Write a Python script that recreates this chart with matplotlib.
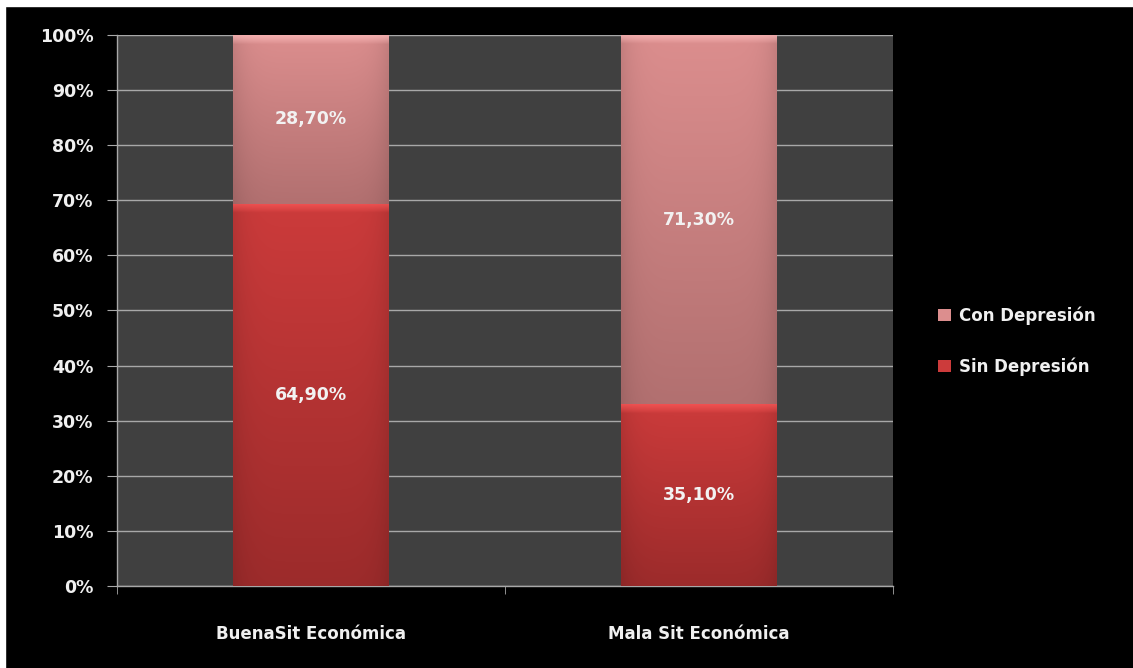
import numpy as np
import matplotlib
matplotlib.use('Agg')
import matplotlib.pyplot as plt
from matplotlib.patches import Patch, Rectangle
from matplotlib.ticker import FuncFormatter

categorias = ['BuenaSit Económica', 'Mala Sit Económica']
sin_depresion = [64.90, 35.10]
con_depresion = [28.70, 71.30]
series = ['Sin Depresión', 'Con Depresión']

# colores: (arriba, abajo) de cada serie
col_sin = ('#cc3b3b', '#9c2b2b')
col_con = ('#dc8e8e', '#b27070')

plt.rcParams['font.family'] = ['DejaVu Sans']
plt.rcParams['font.weight'] = 'bold'

fig = plt.figure(figsize=(11.33, 6.68), dpi=100, facecolor='black', edgecolor='black')
ax = fig.add_axes([0.1033, 0.1228, 0.6849, 0.8248])
ax.set_facecolor('#404040')

# borde blanco arriba y a la izquierda
fig.patches.append(Rectangle((0, 0.991), 1, 0.009, transform=fig.transFigure,
                             color='white', zorder=0))
fig.patches.append(Rectangle((0, 0), 0.004, 1, transform=fig.transFigure,
                             color='white', zorder=0))

total = np.array(sin_depresion) + np.array(con_depresion)
p_sin = np.array(sin_depresion) / total * 100
p_con = np.array(con_depresion) / total * 100
x = np.arange(len(categorias))
ancho = 0.4

def hex2rgb(h):
    return np.array([int(h[i:i + 2], 16) for i in (1, 3, 5)]) / 255.0

def degradado(p, arriba, abajo):
    '''relleno con degradado vertical, bisel arriba y bordes algo oscuros'''
    bx, by = p.get_x(), p.get_y()
    bw, bh = p.get_width(), p.get_height()
    n, m = 400, 60
    t = np.linspace(0, 1, n)[:, None, None]  # 0 arriba, 1 abajo
    a, b = hex2rgb(arriba), hex2rgb(abajo)
    img = a * (1 - t) + b * t
    img = np.repeat(img, m, axis=1)
    u = np.linspace(-1, 1, m)[None, :, None]
    img = img * (1 - 0.10 * np.abs(u) ** 6)
    # bisel superior que se desvanece
    alto = 1.6 / bh  # fraccion de la barra
    w = np.clip(1 - t / alto, 0, 1) ** 0.8
    claro = np.minimum(a * 1.2 + 0.08, 1)
    img = img * (1 - 0.7 * w) + claro * 0.7 * w
    ax.imshow(np.clip(img, 0, 1), extent=[bx, bx + bw, by, by + bh],
              aspect='auto', zorder=3, interpolation='bilinear')

b1 = ax.bar(x, p_sin, ancho, color=col_sin[0], label=series[0], zorder=2)
b2 = ax.bar(x, p_con, ancho, bottom=p_sin, color=col_con[0], label=series[1], zorder=2)
for p in b1:
    degradado(p, *col_sin)
for p in b2:
    degradado(p, *col_con)

# etiquetas de valor
for i in range(len(categorias)):
    ax.text(x[i], p_sin[i] / 2, f'{sin_depresion[i]:.2f}%'.replace('.', ','),
            ha='center', va='center', color='#f2f2f2', fontsize=12.5,
            fontweight='bold', zorder=5)
    ax.text(x[i], p_sin[i] + p_con[i] / 2, f'{con_depresion[i]:.2f}%'.replace('.', ','),
            ha='center', va='center', color='#f2f2f2', fontsize=12.5,
            fontweight='bold', zorder=5)

ax.set_xlim(-0.5, 1.5)
ax.set_ylim(0, 100)
ax.set_yticks(np.arange(0, 101, 10))
ax.yaxis.set_major_formatter(FuncFormatter(lambda v, pos: f'{v:.0f}%'))
ax.yaxis.grid(True, color='#a8a8a8', linewidth=1)
ax.set_axisbelow(True)
ax.set_xticks(x)
ax.set_xticklabels(categorias)
ax.set_xticks([-0.5, 0.5, 1.5], minor=True)
ax.tick_params(axis='x', which='major', length=0, pad=28, labelsize=12,
               labelcolor='#f0f0f0')
ax.tick_params(axis='x', which='minor', length=6, color='#a8a8a8', direction='out')
ax.tick_params(axis='y', length=7, color='#a8a8a8', labelsize=12.5,
               labelcolor='#f0f0f0', pad=10)
for lbl in ax.get_xticklabels() + ax.get_yticklabels():
    lbl.set_fontweight('bold')
for s in ['top', 'right']:
    ax.spines[s].set_visible(False)
for s in ['left', 'bottom']:
    ax.spines[s].set_color('#a8a8a8')
    ax.spines[s].set_linewidth(1)

handles = [Patch(facecolor=col_con[0], edgecolor='none', label=series[1]),
           Patch(facecolor=col_sin[0], edgecolor='none', label=series[0])]
leg = fig.legend(handles=handles, loc='center left', bbox_to_anchor=(0.815, 0.489),
                 frameon=False, fontsize=12, handlelength=0.75, handleheight=0.75,
                 handletextpad=0.5, labelspacing=1.95)
for t in leg.get_texts():
    t.set_color('#f0f0f0')
    t.set_fontweight('bold')

fig.savefig('out.png', dpi=100, facecolor='black', edgecolor='black')
